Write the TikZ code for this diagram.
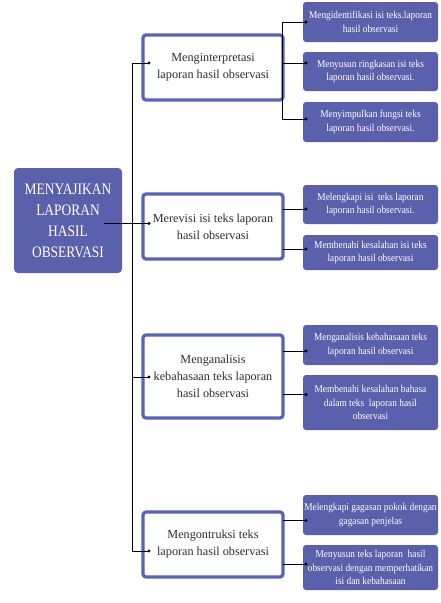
\documentclass[tikz,border=0pt]{standalone}
\usepackage{fontspec}
\setmainfont{Liberation Serif}
\newfontfamily\mainboxfont{Liberation Serif}[FakeStretch=0.84]
\newfontfamily\childfont{Liberation Serif}[FakeStretch=0.9]
\definecolor{boxblue}{RGB}{91,96,172}
\definecolor{rimblue}{RGB}{88,98,184}
\definecolor{midtext}{RGB}{45,45,50}
\tikzset{
  mainbox/.style={fill=boxblue, rounded corners=4pt, inner sep=0pt, align=center,
    text=white, font=\mainboxfont\fontsize{16}{21}\selectfont},
  midbox/.style={draw=rimblue, line width=3.2pt, fill=white, rounded corners=3pt,
    inner sep=0pt, align=center, text=midtext, minimum width=140pt,
    font=\fontsize{12.2}{17}\selectfont},
  childbox/.style={fill=boxblue, rounded corners=3pt, inner sep=0pt, align=center,
    text=white, minimum width=135pt, font=\childfont\fontsize{10.4}{13.5}\selectfont},
  link/.style={draw=black, line width=0.8pt},
  dotmark/.style={fill=black}
}
\begin{document}
\begin{tikzpicture}[x=1pt,y=-1pt]
\useasboundingbox (0,0) rectangle (440,603);
% main
\node[mainbox, minimum width=108pt, minimum height=105pt] (main) at (68,220.5)
  {MENYAJIKAN\\LAPORAN\\HASIL\\OBSERVASI};
% middle boxes
\node[midbox, minimum height=65pt] (b1) at (213,67.5) {Menginterpretasi\\laporan hasil observasi};
\node[midbox, minimum height=65pt] (b2) at (213,226.5) {Merevisi isi teks laporan\\hasil observasi};
\node[midbox, minimum height=83pt] (b3) at (213,376.5) {Menganalisis\\kebahasaan teks laporan\\hasil observasi};
\node[midbox, minimum height=65pt] (b4) at (213,544.5) {Mengontruksi teks\\laporan hasil observasi};
% children
\node[childbox, minimum height=40pt] (c1) at (370.5,22) {Mengidentifikasi isi teks.laporan\\hasil observasi};
\node[childbox, minimum height=39pt] (c2) at (370.5,71.5) {Menyusun ringkasan isi teks\\laporan hasil observasi.};
\node[childbox, minimum height=40pt] (c3) at (370.5,122) {Menyimpulkan fungsi teks\\laporan hasil observasi.};
\node[childbox, minimum height=39pt] (c4) at (370.5,204.5) {Melengkapi isi\ \ teks laporan\\laporan hasil observasi.};
\node[childbox, minimum height=35pt] (c5) at (370.5,252.5) {Membenahi kesalahan isi teks\\laporan hasil observasi};
\node[childbox, minimum height=40pt] (c6) at (370.5,345) {Menganalisis kebahasaan teks\\laporan hasil observasi};
\node[childbox, minimum height=55pt] (c7) at (370.5,402.5) {Membenahi kesalahan bahasa\\dalam teks\ \ laporan hasil\\observasi};
\node[childbox, minimum height=40pt] (c8) at (370.5,515) {Melengkapi gagasan pokok dengan\\gagasan penjelas};
\node[childbox, minimum height=45pt] (c9) at (370.5,567.5) {Menyusun teks laporan\ \ hasil\\observasi dengan memperhatikan\\isi dan kebahasaan};
% connection points
\coordinate (ms) at (104,223.5);
\coordinate (t1) at (132,63);
\coordinate (t4) at (132,551);
\coordinate (b1in) at (149,63);
\coordinate (b2in) at (149,223.5);
\coordinate (b3in) at (149,377);
\coordinate (b4in) at (149,551);
\coordinate (t3) at (132,377);
\coordinate (r1a) at (282,22);
\coordinate (r1b) at (282,119);
\coordinate (r1m) at (282,63);
\coordinate (r2a) at (283,209);
\coordinate (r2b) at (283,249);
\coordinate (r3a) at (283,351);
\coordinate (r3b) at (283,394.5);
\coordinate (r4a) at (283,520.5);
\coordinate (r4b) at (283,564);
\coordinate (c1in) at (306,22);
\coordinate (c2in) at (306,63);
\coordinate (c3in) at (306,119);
\coordinate (c4in) at (306,209);
\coordinate (c5in) at (306,249);
\coordinate (c6in) at (306,351);
\coordinate (c7in) at (306,394.5);
\coordinate (c8in) at (306,520.5);
\coordinate (c9in) at (306,564);
% connectors
\draw[link] (ms) -- (b2in);
\draw[link] (b1in) -- (t1) -- (t4) -- (b4in);
\draw[link] (t3) -- (b3in);
\draw[link] (c1in) -- (r1a) -- (r1b) -- (c3in);
\draw[link] (r1m) -- (c2in);
\draw[link] (r2a) -- (c4in);
\draw[link] (r2b) -- (c5in);
\draw[link] (r3a) -- (c6in);
\draw[link] (r3b) -- (c7in);
\draw[link] (r4a) -- (c8in);
\draw[link] (r4b) -- (c9in);
\foreach \p in {b1in,b2in,b3in,b4in,c1in,c2in,c3in,c4in,c5in,c6in,c7in,c8in,c9in}
  \fill[dotmark] (\p) circle (1.6pt);
\end{tikzpicture}
\end{document}
